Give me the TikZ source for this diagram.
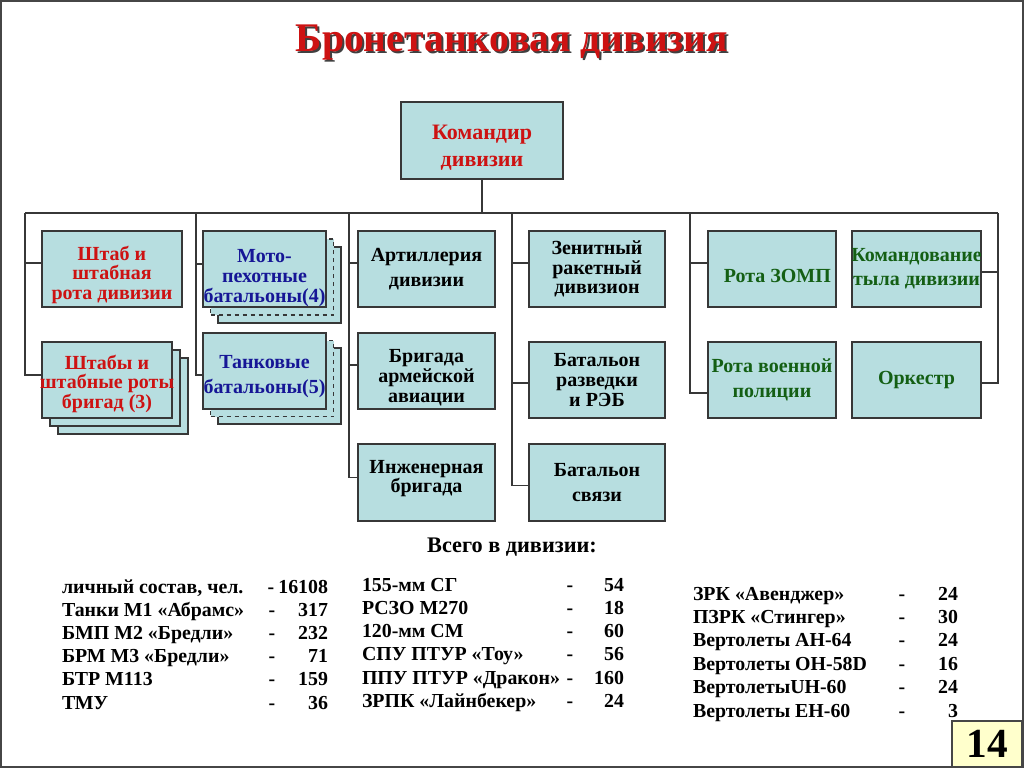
\documentclass[tikz,border=0pt]{standalone}
\usepackage{fontspec}
\setmainfont{Liberation Serif}
\definecolor{boxfill}{RGB}{183,222,224}
\definecolor{boxline}{RGB}{55,55,55}
\definecolor{tred}{RGB}{205,18,18}
\definecolor{tblue}{RGB}{22,22,150}
\definecolor{tgreen}{RGB}{20,95,20}
\definecolor{pagefill}{RGB}{255,255,204}
\definecolor{framec}{RGB}{70,70,70}
\newcommand\ovl[1]{\makebox[0pt]{#1}}
\newcommand\dn[1]{\rule{0pt}{#1}}
\begin{document}
\begin{tikzpicture}[x=0.75pt,y=-0.75pt,
  box/.style n args={4}{draw=boxline, fill=boxfill, line width=0.9pt, inner sep=0pt, outer sep=0pt,
    minimum width={(#3-#1)*0.75pt}, minimum height={(#4-#2)*0.75pt},
    at={({(#1+#3)/2},{(#2+#4)/2})}, align=center,
    font=\bfseries\fontsize{15}{14.8}\selectfont},
  conn/.style={draw=boxline, line width=0.9pt},
  tab/.style={font=\bfseries\fontsize{14.9}{16}\selectfont, inner sep=0pt, outer sep=0pt},
  red/.style={text=tred}, blue/.style={text=tblue}, green/.style={text=tgreen}
]
\useasboundingbox (0,0) rectangle (1024,768);
\fill[white] (0,0) rectangle (1024,768);

% title
\node[font=\bfseries\fontsize{30.5}{32}\selectfont, text=black!75, anchor=base, inner sep=0pt, xscale=0.975] (titleshadow) at (514,53) {Бронетанковая дивизия};
\node[font=\bfseries\fontsize{30.5}{32}\selectfont, text=tred, anchor=base, inner sep=0pt, xscale=0.975] (title) at (512,51) {Бронетанковая дивизия};

% commander
\node[box={401}{102}{563}{179}, red, font=\bfseries\fontsize{16.5}{15.6}\selectfont] (cmd) {\dn{22pt}Командир\\[4.9pt]дивизии};

% bus
\coordinate (b1) at (25,213);
\coordinate (b2) at (196,213);
\coordinate (b3) at (349,213);
\coordinate (b4) at (512,213);
\coordinate (b5) at (690,213);
\coordinate (b6) at (998,213);
\draw[conn] (cmd.south) -- (cmd.south |- b1);
\draw[conn] (b1) -- (b6);

% column 1
\node[box={42}{231}{182}{307}, red] (shtab) {\dn{19.5pt}Штаб и\\штабная\\рота дивизии};
\node[box={58}{358}{188}{434}] (shtabs3) {};
\node[box={50}{350}{180}{426}] (shtabs2) {};
\node[box={42}{342}{172}{418}, red] (shtabs) {\dn{16.5pt}Штабы и\\\ovl{штабные роты}\\бригад (3)};

% column 2
\node[box={218}{247}{341}{323}] (moto3) {};
\node[box={210.5}{239}{333.5}{315}, dashed] (moto2) {};
\node[box={203}{231}{326}{307}, blue] (moto) {\dn{23.5pt}Мото-\\пехотные\\\ovl{батальоны(4)}};
\node[box={218}{348}{341}{424}] (tank3) {};
\node[box={210.5}{340.5}{333.5}{416.5}, dashed] (tank2) {};
\node[box={203}{333}{326}{409}, blue] (tank) {\dn{18pt}Танковые\\[4pt]\ovl{батальоны(5)}};

% column 3
\node[box={358}{231}{495}{307}] (art) {Артиллерия\\[4pt]дивизии};
\node[box={358}{333}{495}{409}] (avia) {\dn{19.5pt}Бригада\\армейской\\авиации};
\node[box={358}{444}{495}{521}] (eng) {Инженерная\\бригада\rule[-9pt]{0pt}{0pt}};

% column 4
\node[box={529}{231}{665}{307}] (zrd) {Зенитный\\ракетный\\дивизион};
\node[box={529}{342}{665}{418}] (razv) {Батальон\\разведки\\и РЭБ};
\node[box={529}{444}{665}{521}] (svyaz) {Батальон\\[4pt]связи};

% column 5
\node[box={708}{231}{836}{307}, green] (zomp) {\dn{21pt}\hspace*{8pt}Рота ЗОМП};
\node[box={708}{342}{836}{418}, green] (police) {Рота военной\\[4pt]полиции};

% column 6
\node[box={852}{231}{981}{307}, green] (tyl) {\ovl{Командование}\\[3pt]\ovl{тыла дивизии}};
\node[box={852}{342}{981}{418}, green] (orch) {Оркестр};

% ticks
\draw[conn] (b1) |- ([yshift=4.5pt]shtab.west);
\draw[conn] (b1) |- ([yshift=3.75pt]shtabs.west);
\draw[conn] (b2) |- ([yshift=3.75pt]moto.west);
\draw[conn] (b2) |- ([yshift=-3pt]tank.west);
\draw[conn] (b3) |- ([yshift=4.5pt]art.west);
\draw[conn] (b3) |- ([yshift=4.5pt]avia.west);
\draw[conn] (b3) |- ([yshift=4pt]eng.west);
\draw[conn] (b4) |- ([yshift=4.5pt]zrd.west);
\draw[conn] (b4) |- ([yshift=-2.25pt]razv.west);
\draw[conn] (b4) |- ([yshift=-2pt]svyaz.west);
\draw[conn] (b5) |- ([yshift=4.5pt]zomp.west);
\draw[conn] (b5) |- ([yshift=-9.75pt]police.west);
\draw[conn] (b6) |- ([yshift=-2.25pt]tyl.east);
\draw[conn] (b6) |- ([yshift=-2.25pt]orch.east);

% totals
\node[tab, anchor=base, font=\bfseries\fontsize{16.7}{18}\selectfont] (total) at (512,552) {Всего в дивизии:};

\node[tab, anchor=base west] (ta0) at (62,593) {личный состав, чел.};
\node[tab, anchor=base] (td0) at (271,593) {-};
\node[tab, anchor=base east] (tn0) at (328,593) {16108};
\foreach \t/\n [count=\i] in {Танки М1 «Абрамс»/317, БМП М2 «Бредли»/232, БРМ М3 «Бредли»/71, БТР М113/159, ТМУ/36} {
  \node[tab, anchor=base west] (ta\i) at (62,{593+23.2*\i}) {\t};
  \node[tab, anchor=base] (td\i) at (272,{593+23.2*\i}) {-};
  \node[tab, anchor=base east] (tn\i) at (328,{593+23.2*\i}) {\n};
}
\foreach \t/\n [count=\i from 0] in {155-мм СГ/54, РСЗО М270/18, 120-мм СМ/60, СПУ ПТУР «Тоу»/56, ППУ ПТУР «Дракон»/160, ЗРПК «Лайнбекер»/24} {
  \node[tab, anchor=base west] (tb\i) at (362,{591+23.3*\i}) {\t};
  \node[tab, anchor=base] (te\i) at (570,{591+23.3*\i}) {-};
  \node[tab, anchor=base east] (to\i) at (624,{591+23.3*\i}) {\n};
}
\foreach \t/\n [count=\i from 0] in {ЗРК «Авенджер»/24, ПЗРК «Стингер»/30, Вертолеты АН-64/24, Вертолеты ОН-58D/16, ВертолетыUH-60/24, Вертолеты ЕН-60/3} {
  \node[tab, anchor=base west] (tc\i) at (693,{600+23.4*\i}) {\t};
  \node[tab, anchor=base] (tf\i) at (902,{600+23.4*\i}) {-};
  \node[tab, anchor=base east] (tp\i) at (958,{600+23.4*\i}) {\n};
}

% page number
\node[draw=framec, fill=pagefill, line width=1pt, inner sep=0pt, outer sep=0pt,
  minimum width={70*0.75pt}, minimum height={46*0.75pt}, at={(987,744)},
  font=\bfseries\fontsize{31}{31}\selectfont] (page) {14};

% frame
\draw[framec, line width=1.3pt] (1,1) rectangle (1023,767);
\end{tikzpicture}
\end{document}
